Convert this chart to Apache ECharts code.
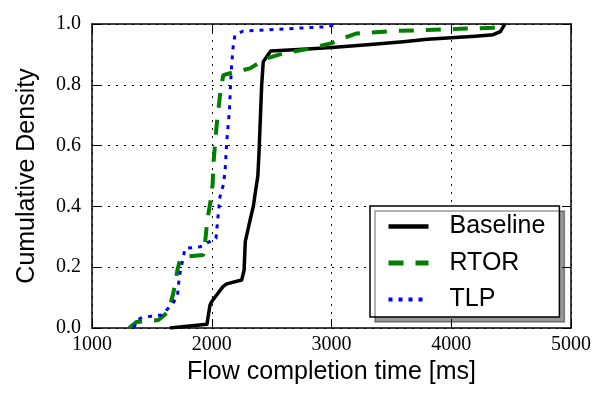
<!DOCTYPE html>
<html>
<head>
<meta charset="utf-8">
<script src="https://cdn.jsdelivr.net/npm/echarts@6/dist/echarts.min.js"></script>
<style>
  html, body { margin: 0; padding: 0; background: #fff; }
  #chart { width: 610px; height: 406px; }
</style>
</head>
<body>
<div id="chart"></div>
<script>
// CDF points [ms, cumulative density]
var baseline = [
    [1650, 0.0], [1960, 0.012], [1985, 0.075], [2000, 0.087], [2094, 0.136],
    [2125, 0.145], [2250, 0.158], [2270, 0.19], [2280, 0.284], [2292, 0.29],
    [2320, 0.355], [2347, 0.4], [2367, 0.454], [2385, 0.5], [2395, 0.58],
    [2417, 0.8], [2430, 0.876], [2492, 0.911], [2800, 0.918], [3000, 0.923],
    [3300, 0.932], [3600, 0.942], [3800, 0.95], [4000, 0.955], [4200, 0.96],
    [4350, 0.965], [4410, 0.975], [4440, 0.995], [4450, 1.0]
];
var rtor = [
    [1311, 0.0], [1373, 0.02], [1554, 0.026], [1637, 0.054], [1679, 0.114],
    [1713, 0.19], [1735, 0.224], [1777, 0.235], [1930, 0.24], [1944, 0.279],
    [1963, 0.355], [1991, 0.42], [2008, 0.476], [2013, 0.536], [2041, 0.668],
    [2069, 0.766], [2096, 0.832], [2152, 0.838], [2319, 0.854], [2459, 0.887],
    [2570, 0.9], [2848, 0.922], [3001, 0.937], [3098, 0.953], [3210, 0.969],
    [3516, 0.977], [3795, 0.98], [4073, 0.984], [4351, 0.988], [4420, 0.99]
];
var tlp = [
    [1345, 0.0], [1401, 0.032], [1498, 0.039], [1582, 0.043], [1665, 0.076],
    [1713, 0.103], [1729, 0.169], [1777, 0.262], [1902, 0.267], [1958, 0.279],
    [2035, 0.295], [2055, 0.377], [2069, 0.432], [2096, 0.47], [2111, 0.514],
    [2125, 0.613], [2147, 0.711], [2158, 0.81], [2166, 0.865], [2180, 0.931],
    [2194, 0.964], [2263, 0.977], [2959, 0.991], [3029, 0.997], [3035, 1.0]
];
var seriesNames = ['Baseline', 'RTOR', 'TLP'];

var serif = 'Liberation Serif';
var sans = 'Liberation Sans';

var myChart = echarts.init(document.getElementById('chart'));

var gridLine = { show: true, lineStyle: { color: '#000', type: [2, 6], width: 1 } };
var frame = { show: true, onZero: false, lineStyle: { color: '#000', width: 1.5 } };
var tickIn = { show: true, inside: true, length: 9, lineStyle: { color: '#000', width: 1 } };

var option = {
    animation: false,
    backgroundColor: '#fff',
    grid: { left: 92, right: 39, top: 24, bottom: 78 },
    legend: {
        orient: 'vertical',
        left: 370,
        top: 206,
        padding: [8, 14, 5, 16],
        itemGap: 11.5,
        itemWidth: 40,
        itemHeight: 22,
        backgroundColor: '#fff',
        borderColor: '#000',
        borderWidth: 1.5,
        borderRadius: 0,
        shadowColor: 'rgba(0,0,0,0.4)',
        shadowBlur: 0,
        shadowOffsetX: 5,
        shadowOffsetY: 5,
        itemStyle: { opacity: 0 },
        textStyle: {
            fontFamily: sans, fontSize: 25, lineHeight: 22, color: '#000',
            padding: [0, 0, 0, 16], width: 95
        },
        data: [
            { name: seriesNames[0], lineStyle: { width: 4.5 } },
            { name: seriesNames[1], lineStyle: { width: 5 } },
            { name: seriesNames[2], lineStyle: { width: 4 } }
        ]
    },
    xAxis: [{
        type: 'value', min: 1000, max: 5000, interval: 1000,
        position: 'bottom',
        name: 'Flow completion time [ms]', nameLocation: 'middle', nameGap: 31,
        nameTextStyle: { fontFamily: sans, fontSize: 25, color: '#000' },
        axisLine: frame, axisTick: tickIn, splitLine: gridLine,
        axisLabel: {
            fontFamily: serif, fontSize: 20, color: '#000', margin: 7,
            formatter: function (v) { return String(v); }
        }
    }, {
        type: 'value', min: 1000, max: 5000, interval: 1000,
        position: 'top',
        axisLine: frame, axisTick: tickIn, splitLine: { show: false },
        axisLabel: { show: false }
    }],
    yAxis: [{
        type: 'value', min: 0, max: 1, interval: 0.2,
        position: 'left',
        name: 'Cumulative Density', nameLocation: 'middle', nameGap: 52,
        nameTextStyle: { fontFamily: sans, fontSize: 25, color: '#000' },
        axisLine: frame, axisTick: tickIn, splitLine: gridLine,
        axisLabel: {
            fontFamily: serif, fontSize: 20, color: '#000', margin: 11,
            formatter: function (v) { return v.toFixed(1); }
        }
    }, {
        type: 'value', min: 0, max: 1, interval: 0.2,
        position: 'right',
        axisLine: frame, axisTick: tickIn, splitLine: { show: false },
        axisLabel: { show: false }
    }],
    series: [{
        name: 'Baseline', type: 'line', data: baseline, symbol: 'none',
        color: '#000',
        lineStyle: { color: '#000', width: 3.5, join: 'round' }
    }, {
        name: 'RTOR', type: 'line', data: rtor, symbol: 'none',
        color: '#007f00',
        lineStyle: { color: '#007f00', width: 4, type: [15, 12] }
    }, {
        name: 'TLP', type: 'line', data: tlp, symbol: 'none',
        color: '#0000ff',
        lineStyle: { color: '#0000ff', width: 3, type: [4, 6] }
    }]
};

myChart.setOption(option);
</script>
</body>
</html>
